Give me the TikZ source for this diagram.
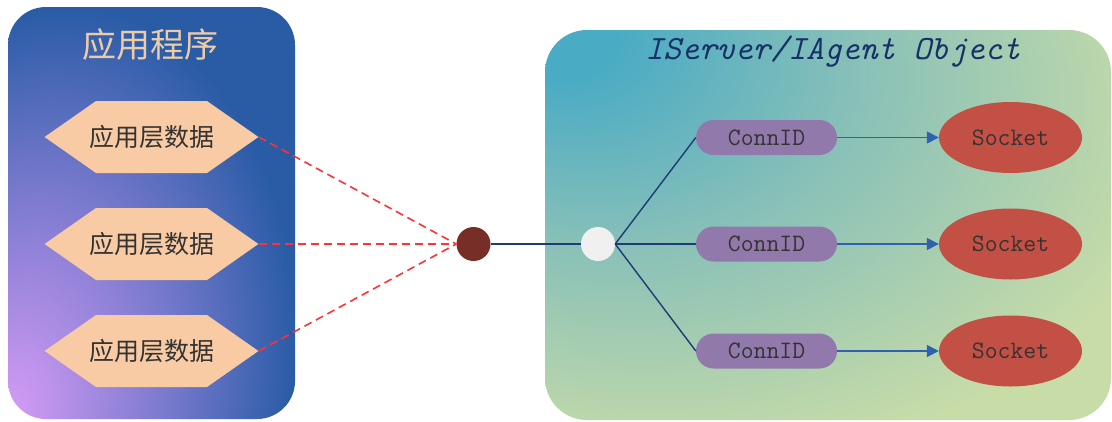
\documentclass[tikz,border=0pt]{standalone}
\usepackage{fontspec}
\newfontfamily\cjk{Noto Sans CJK SC}
\usetikzlibrary{shapes.symbols,shapes.misc,shapes.geometric,arrows.meta}

\definecolor{appblue}{RGB}{42,92,166}
\definecolor{appmid}{RGB}{122,122,206}
\definecolor{applilac}{RGB}{214,156,246}
\definecolor{objteal}{RGB}{74,171,196}
\definecolor{objmid}{RGB}{136,192,184}
\definecolor{objgreen}{RGB}{200,220,168}
\definecolor{hexfill}{RGB}{248,203,165}
\definecolor{connfill}{RGB}{146,121,171}
\definecolor{sockfill}{RGB}{194,80,69}
\definecolor{dotbrown}{RGB}{119,46,38}
\definecolor{dotwhite}{RGB}{240,240,240}
\definecolor{linknavy}{RGB}{30,59,115}
\definecolor{arrowblue}{RGB}{46,98,176}
\definecolor{dashred}{RGB}{255,51,51}
\definecolor{titletan}{RGB}{236,204,168}
\definecolor{titlenavy}{RGB}{22,50,104}

\pgfdeclareradialshading{appshade}{\pgfpoint{-25bp}{-25bp}}{color(0bp)=(applilac); color(22bp)=(appmid); color(40bp)=(appblue); color(100bp)=(appblue)}
\pgfdeclareradialshading{objshade}{\pgfpoint{-25bp}{25bp}}{color(0bp)=(objteal); color(5bp)=(objteal); color(22bp)=(objmid); color(45bp)=(objgreen); color(100bp)=(objgreen)}

\begin{document}
\begin{tikzpicture}[x=1pt,y=1pt,yscale=-1,
  hexbox/.style={signal, signal to=east and west, signal pointer angle=70, fill=hexfill, minimum width=213pt, minimum height=72pt, inner xsep=-7pt, inner ysep=0pt, font=\cjk\fontsize{25}{25}\selectfont, text=black!80},
  connbox/.style={rounded rectangle, fill=connfill, minimum width=141pt, minimum height=35pt, inner sep=0pt, font=\ttfamily\fontsize{25}{25}\selectfont, text=black!80},
  sockbox/.style={ellipse, fill=sockfill, minimum width=143pt, minimum height=71pt, inner sep=0pt, font=\ttfamily\fontsize{25}{25}\selectfont, text=black!80},
  dotbox/.style={circle, minimum size=34pt, inner sep=0pt},
  reddash/.style={dashred, line width=1.6pt, dash pattern=on 8pt off 5pt},
  navyline/.style={linknavy, line width=1.4pt},
  bluearrow/.style={arrowblue, line width=1.6pt, -{Triangle[length=12pt,width=12pt]}}]
\useasboundingbox (0,0) rectangle (1112,421);

%Shape: Application box
\shade [rounded corners=38pt, shading=appshade] (8,7) rectangle (295,419);
%Shape: Object box
\shade [rounded corners=42pt, shading=objshade] (545,30) rectangle (1111,420);

% Text Node
\draw (150,45) node [font=\cjk\fontsize{34}{34}\selectfont, text=titletan] (apptitle) {应用程序};
% Text Node
\draw (833,52) node [font=\ttfamily\itshape\fontsize{34}{34}\selectfont, text=titlenavy] (objtitle) {IServer/IAgent Object};

%Shape: data hexagons
\draw (151.5,137) node [hexbox] (data1) {应用层数据};
\draw (151.5,244) node [hexbox] (data2) {应用层数据};
\draw (151.5,351) node [hexbox] (data3) {应用层数据};

%Shape: Circles
\draw (473.5,244) node [dotbox, fill=dotbrown] (sender) {};
\draw (598,244) node [dotbox, fill=dotwhite] (hub) {};

%Shape: ConnID / Socket
\draw (766.5,137.5) node [connbox] (conn1) {ConnID};
\draw (766.5,244) node [connbox] (conn2) {ConnID};
\draw (766.5,351) node [connbox] (conn3) {ConnID};
\draw (1010.5,137.5) node [sockbox] (sock1) {Socket};
\draw (1010.5,244) node [sockbox] (sock2) {Socket};
\draw (1010.5,351) node [sockbox] (sock3) {Socket};

%Straight Lines
\draw [reddash] (data1.east) -- (sender.west);
\draw [reddash] (data2.east) -- (sender.west);
\draw [reddash] (data3.east) -- (sender.west);
\draw [navyline] (sender.east) -- (hub.west);
\draw [navyline] (hub.east) -- (conn1.west);
\draw [navyline] (hub.east) -- (conn2.west);
\draw [navyline] (hub.east) -- (conn3.west);

%Arrows
\draw [bluearrow] (conn1.east) -- (sock1.west);
\draw [bluearrow] (conn2.east) -- (sock2.west);
\draw [bluearrow] (conn3.east) -- (sock3.west);

\end{tikzpicture}
\end{document}
